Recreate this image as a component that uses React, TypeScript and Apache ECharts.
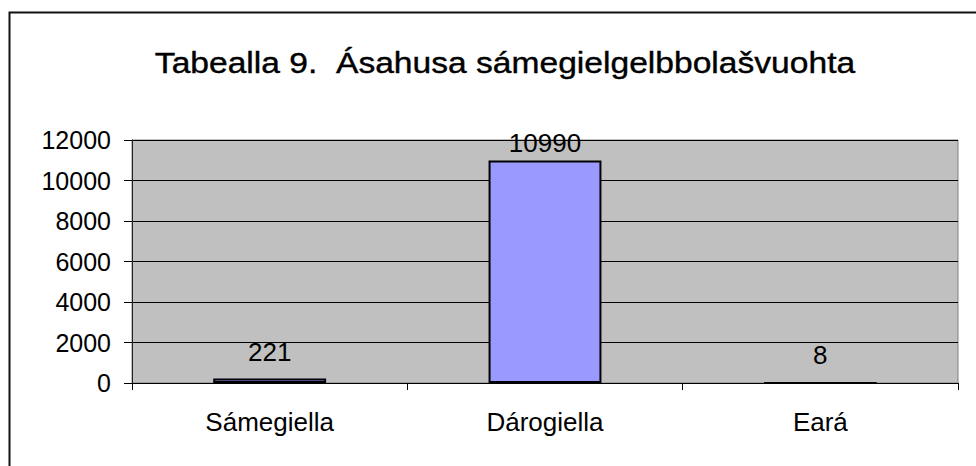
import React, { useEffect, useRef } from "react";
import * as echarts from "echarts";

const titleText = "Tabealla 9.  Ásahusa sámegielgelbbolašvuohta";
const categories = ["Sámegiella", "Dárogiella", "Eará"];
const values = [221, 10990, 8];
const yTicks = [0, 2000, 4000, 6000, 8000, 10000, 12000];

const FONT = "Liberation Sans, Arial, sans-serif";

export default function App() {
  const ref = useRef<HTMLDivElement>(null);
  useEffect(() => {
    document.body.style.margin = "0";
    if (!ref.current) return;
    const chart = echarts.init(ref.current, undefined, { renderer: "svg" });
    const yMax = yTicks[yTicks.length - 1];
    const yStep = yTicks[1] - yTicks[0];
    chart.setOption({
      animation: false,
      backgroundColor: "#ffffff",
      graphic: [
        {
          type: "polyline",
          shape: { points: [[9.5, 470], [9.5, 12.5], [980, 12.5]] },
          style: { stroke: "#111", lineWidth: 2, fill: "none" },
          silent: true,
        },
        {
          type: "text",
          x: 505,
          y: 63,
          scaleX: 1.12,
          style: {
            text: titleText,
            font: `30px ${FONT}`,
            fill: "#000",
            stroke: "#000",
            lineWidth: 0.4,
            align: "center",
            verticalAlign: "middle",
          },
          silent: true,
        },
      ],
      grid: {
        left: 132,
        top: 140,
        right: 18,
        bottom: 83,
        show: true,
        backgroundColor: "#C0C0C0",
        borderColor: "#808080",
        borderWidth: 1,
      },
      xAxis: {
        type: "category",
        data: categories,
        axisLine: { show: true, lineStyle: { color: "#000", width: 1 } },
        axisTick: { show: true, length: 7, lineStyle: { color: "#000" } },
        axisLabel: {
          color: "#000",
          fontFamily: FONT,
          fontSize: 26,
          margin: 26,
        },
        splitLine: { show: false },
      },
      yAxis: {
        type: "value",
        min: 0,
        max: yMax,
        interval: yStep,
        axisLine: { show: true, lineStyle: { color: "#222", width: 1 } },
        axisTick: { show: true, length: 8, lineStyle: { color: "#000" } },
        axisLabel: {
          color: "#000",
          fontFamily: FONT,
          fontSize: 25,
          margin: 21,
          formatter: (v: number) => String(v),
        },
        splitLine: { show: true, lineStyle: { color: "#000", width: 1 } },
      },
      series: [
        {
          type: "bar",
          barWidth: "41%",
          data: values.map((v) => ({
            value: v,
            label: { distance: v > yMax * 0.85 ? 4 : 14 },
          })),
          itemStyle: { color: "#9999FF", borderColor: "#000", borderWidth: 2 },
          label: {
            show: true,
            position: "top",
            color: "#000",
            fontFamily: FONT,
            fontSize: 26,
          },
        },
      ],
    });
    return () => chart.dispose();
  }, []);
  return <div ref={ref} style={{ width: 976, height: 466 }} />;
}
